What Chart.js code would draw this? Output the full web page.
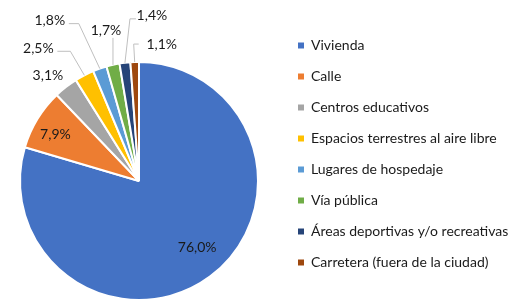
<!DOCTYPE html>
<html>
<head>
<meta charset="utf-8">
<script src="https://cdn.jsdelivr.net/npm/chart.js@4/dist/chart.umd.min.js"></script>
<style>
  html, body { margin: 0; padding: 0; background: #fff; }
  #wrap { width: 522px; height: 307px; }
</style>
</head>
<body>
<div id="wrap"><canvas id="pie"></canvas></div>
<script>
const categories = ["Vivienda", "Calle", "Centros educativos", "Espacios terrestres al aire libre",
  "Lugares de hospedaje", "Vía pública", "Áreas deportivas y/o recreativas", "Carretera (fuera de la ciudad)"]
const values = [76.0, 7.9, 3.1, 2.5, 1.8, 1.7, 1.4, 1.1]
const colors = ["#4472C4", "#ED7D31", "#A5A5A5", "#FFC000", "#5B9BD5", "#70AD47", "#264478", "#9E480E"]

// label placement, relative to the outer edge point in the middle of each slice
const labelOffsets = [[-13, -29], [18, 15], [-18, -12], [-46, -27], [-50, -48], [-7, -34], [27, -47], [27, -18]]
// leader lines (elbow x,y, end x,y), relative to the same edge point
const leaders = [null, null, null, [-14, -24, -27, -24], [-21, -45, -31, -45], [0, -27, 0, -27], [5, -44, 11, -44], [-1, -18, 4, -18]]

const FONT = "Lato"
const LEG_PAD = 17

const sliceLabels = {
  id: 'sliceLabels',
  afterLayout(chart) {
    // move the legend to where the original one sits
    const lg = chart.legend
    lg.top = -15
    lg.bottom = chart.height - 15
    lg.left = 298 - LEG_PAD
    lg.right = chart.width
  },
  afterDatasetsDraw(chart) {
    const ctx = chart.ctx
    const meta = chart.getDatasetMeta(0)
    ctx.save()
    ctx.font = "14px " + FONT
    ctx.textAlign = "center"
    ctx.textBaseline = "middle"
    meta.data.forEach((arc, i) => {
      const p = arc.getProps(['x', 'y', 'startAngle', 'endAngle', 'outerRadius'], true)
      const mid = (p.startAngle + p.endAngle) / 2
      const ex = p.x + Math.cos(mid) * p.outerRadius
      const ey = p.y + Math.sin(mid) * p.outerRadius
      if (leaders[i]) {
        const l = leaders[i]
        ctx.strokeStyle = "#BFBFBF"
        ctx.lineWidth = 1
        ctx.beginPath()
        ctx.moveTo(ex, ey)
        ctx.lineTo(ex + l[0], ey + l[1])
        ctx.lineTo(ex + l[2], ey + l[3])
        ctx.stroke()
      }
      ctx.fillStyle = "#1a1a1a"
      const txt = values[i].toFixed(1).replace('.', ',') + "%"
      ctx.fillText(txt, ex + labelOffsets[i][0], ey + labelOffsets[i][1])
    })
    ctx.restore()
  }
}

new Chart(document.getElementById('pie'), {
  type: 'pie',
  data: {
    labels: categories,
    datasets: [{
      data: values,
      backgroundColor: colors,
      borderColor: "#fff",
      borderWidth: 2
    }]
  },
  options: {
    responsive: true,
    maintainAspectRatio: false,
    animation: false,
    layout: { padding: { top: 61, bottom: 6, left: 19, right: 63 } },
    plugins: {
      tooltip: { enabled: false },
      legend: {
        position: 'right',
        maxWidth: 200,
        labels: {
          boxWidth: 6,
          boxHeight: 6,
          padding: LEG_PAD,
          color: "#1a1a1a",
          font: { family: FONT, size: 14 },
          generateLabels: (chart) => Chart.overrides.pie.plugins.legend.labels.generateLabels(chart)
            .map(l => ({ ...l, lineWidth: 0, strokeStyle: l.fillStyle }))
        }
      }
    }
  },
  plugins: [sliceLabels]
})
</script>
</body>
</html>
